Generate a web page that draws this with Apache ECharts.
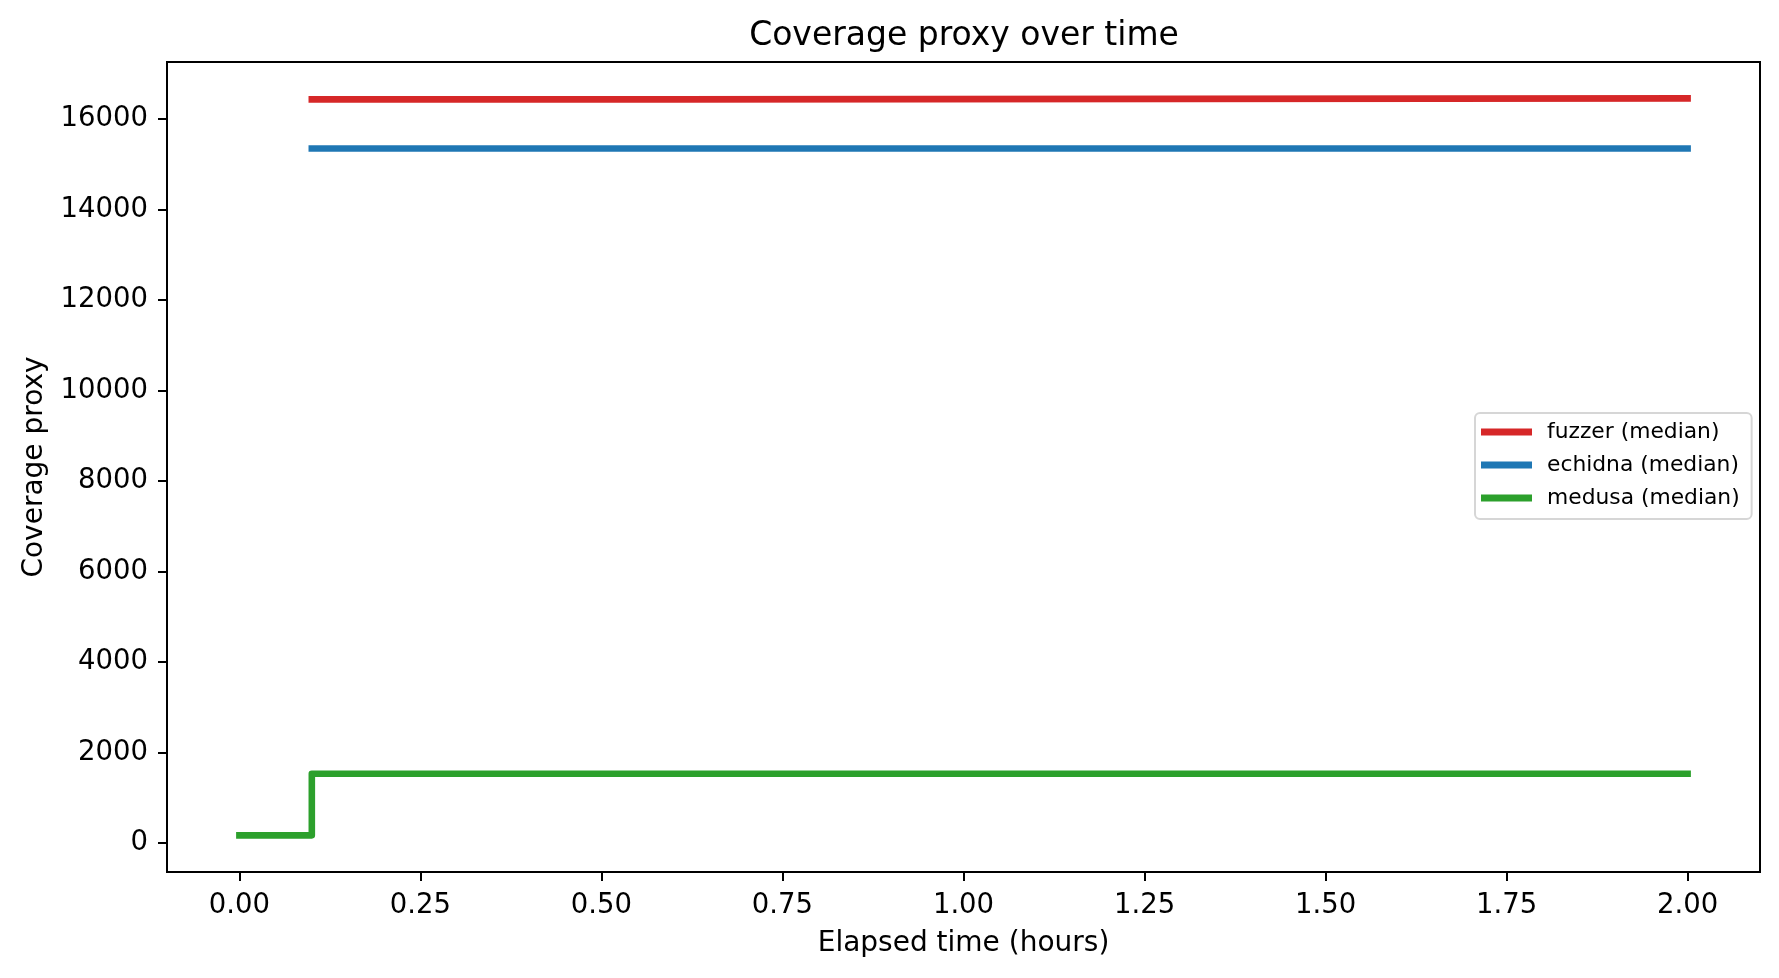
<!DOCTYPE html>
<html>
<head>
<meta charset="utf-8">
<title>Coverage proxy over time</title>
<script src="https://cdn.jsdelivr.net/npm/echarts@6/dist/echarts.min.js"></script>
<style>
html, body { margin: 0; padding: 0; background: #fff; }
#chart { width: 1779px; height: 978px; }
</style>
</head>
<body>
<div id="chart"></div>
<script>
// step lines
var fuzzerX = [0.1, 0.6, 2.0];
var fuzzerY = [16435, 16455, 16455];
var echidnaX = [0.1, 2.0];
var echidnaY = [15350, 15350];
var medusaX = [0, 0.1, 2.0];
var medusaY = [170, 1530, 1530];

var xTicks = [0, 0.25, 0.5, 0.75, 1.0, 1.25, 1.5, 1.75, 2.0];
var yTicks = [0, 2000, 4000, 6000, 8000, 10000, 12000, 14000, 16000];

var font = 'DejaVu Sans';

function pairs(xs, ys) {
	var out = [];
	for (var i = 0; i < xs.length; i++) {
		out.push([xs[i], ys[i]]);
	}
	return out;
}

function lineSeries(name, xs, ys, color) {
	return {
		name: name,
		type: 'line',
		step: 'end',
		data: pairs(xs, ys),
		showSymbol: false,
		symbol: 'none',
		color: color,
		lineStyle: { width: 6.6, color: color, cap: 'square', join: 'round' },
		emphasis: { disabled: true }
	};
}

var chart = echarts.init(document.getElementById('chart'));
var option = {
	animation: false,
	backgroundColor: '#fff',
	title: {
		text: 'Coverage proxy over time',
		left: 964,
		textAlign: 'center',
		top: 20,
		padding: 0,
		textStyle: { fontFamily: font, fontSize: 33, fontWeight: 'normal', color: '#000' }
	},
	grid: {
		left: 167,
		right: 19,
		top: 62,
		bottom: 106,
		show: true,
		borderColor: '#000',
		borderWidth: 2,
		backgroundColor: 'transparent'
	},
	legend: {
		orient: 'vertical',
		left: 1475,
		top: 413,
		icon: 'rect',
		itemWidth: 51,
		itemHeight: 7,
		itemGap: 11,
		padding: [8, 12, 10, 6],
		backgroundColor: '#fff',
		borderColor: '#d6d6d6',
		borderWidth: 2,
		borderRadius: 5,
		textStyle: { fontFamily: font, fontSize: 21.8, color: '#000', lineHeight: 22, padding: [0, 0, 0, 10] },
		data: ['fuzzer (median)', 'echidna (median)', 'medusa (median)']
	},
	xAxis: {
		type: 'value',
		min: -0.1,
		max: 2.1,
		name: 'Elapsed time (hours)',
		nameLocation: 'middle',
		nameGap: 58,
		nameTextStyle: { fontFamily: font, fontSize: 28, color: '#000' },
		axisLine: { show: true, onZero: false, lineStyle: { color: '#000', width: 2 } },
		axisTick: { show: true, length: 9, customValues: xTicks, lineStyle: { color: '#000', width: 2 } },
		axisLabel: {
			customValues: xTicks,
			margin: 20,
			fontFamily: font,
			fontSize: 27.5,
			color: '#000',
			formatter: function (v) { return v.toFixed(2); }
		},
		splitLine: { show: false }
	},
	yAxis: {
		type: 'value',
		min: -640,
		max: 17260,
		name: 'Coverage proxy',
		nameLocation: 'middle',
		nameGap: 118,
		nameRotate: 90,
		nameTextStyle: { fontFamily: font, fontSize: 28, color: '#000' },
		axisLine: { show: true, onZero: false, lineStyle: { color: '#000', width: 2 } },
		axisTick: { show: true, length: 9, customValues: yTicks, lineStyle: { color: '#000', width: 2 } },
		axisLabel: {
			customValues: yTicks,
			margin: 19,
			padding: [4, 0, 0, 0],
			fontFamily: font,
			fontSize: 27.5,
			color: '#000',
			formatter: function (v) { return String(v); }
		},
		splitLine: { show: false }
	},
	series: [
		lineSeries('fuzzer (median)', fuzzerX, fuzzerY, '#d62728'),
		lineSeries('echidna (median)', echidnaX, echidnaY, '#1f77b4'),
		lineSeries('medusa (median)', medusaX, medusaY, '#2ca02c')
	]
};
chart.setOption(option);
</script>
</body>
</html>
